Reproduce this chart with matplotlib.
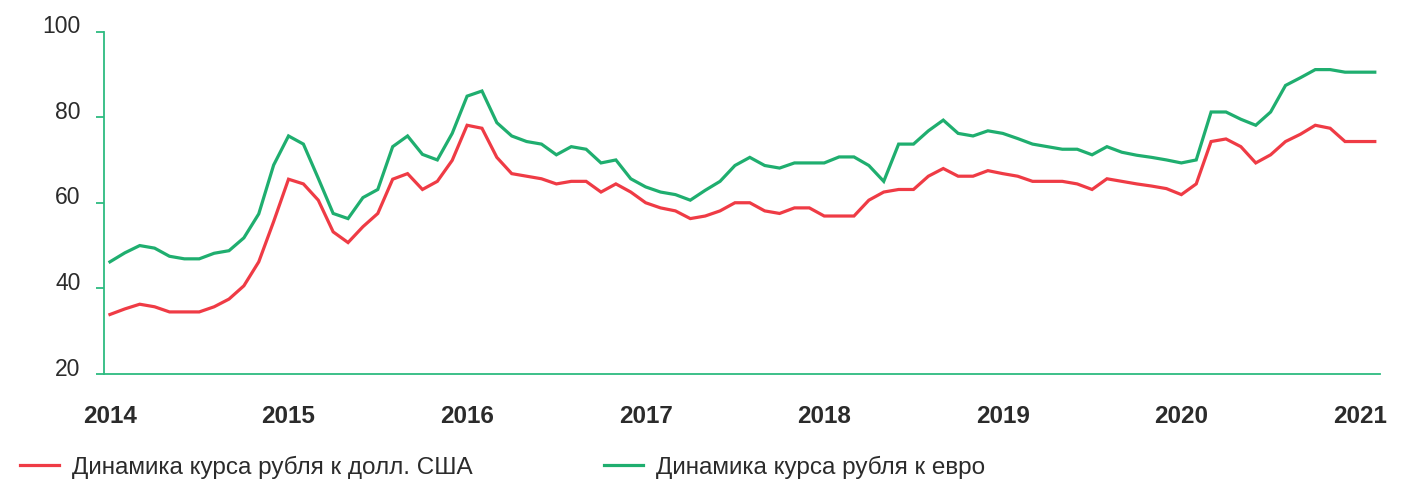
import numpy as np
import matplotlib
matplotlib.use("Agg")
import matplotlib.pyplot as plt
from matplotlib import transforms
from matplotlib import font_manager

# monthly values, Jan 2014 .. Feb 2021
usd = [
    33.9, 35.2, 36.3, 35.7, 34.5, 34.5, 34.5, 35.7, 37.5, 40.6, 46.2, 55.6,
    65.5, 64.4, 60.6, 53.2, 50.7, 54.4, 57.5, 65.5, 66.8, 63.1, 65.0, 69.9,
    78.1, 77.4, 70.6, 66.8, 66.2, 65.6, 64.4, 65.0, 65.0, 62.5, 64.4, 62.5,
    60.0, 58.8, 58.1, 56.3, 56.9, 58.1, 60.0, 60.0, 58.1, 57.5, 58.8, 58.8,
    56.9, 56.9, 56.9, 60.6, 62.5, 63.1, 63.1, 66.2, 68.0, 66.2, 66.2, 67.5,
    66.8, 66.2, 65.0, 65.0, 65.0, 64.4, 63.1, 65.6, 65.0, 64.4, 63.9, 63.3,
    61.9, 64.4, 74.3, 74.9, 73.1, 69.3, 71.2, 74.3, 76.0, 78.1, 77.4, 74.3,
    74.3, 74.3,
]
eur = [
    46.2, 48.3, 50.0, 49.4, 47.5, 46.9, 46.9, 48.2, 48.8, 51.8, 57.4, 68.8,
    75.6, 73.7, 65.7, 57.5, 56.3, 61.2, 63.1, 73.1, 75.6, 71.3, 70.0, 76.2,
    84.9, 86.1, 78.7, 75.6, 74.3, 73.7, 71.2, 73.1, 72.5, 69.3, 70.0, 65.6,
    63.7, 62.5, 61.9, 60.6, 62.9, 65.0, 68.7, 70.6, 68.7, 68.1, 69.3, 69.3,
    69.3, 70.7, 70.7, 68.7, 65.0, 73.7, 73.7, 76.8, 79.3, 76.2, 75.6, 76.8,
    76.2, 75.0, 73.7, 73.1, 72.5, 72.5, 71.2, 73.1, 71.8, 71.1, 70.6, 70.0,
    69.3, 70.0, 81.2, 81.2, 79.5, 78.1, 81.2, 87.4, 89.2, 91.1, 91.1, 90.5,
    90.5, 90.5,
]
years = ["2014", "2015", "2016", "2017", "2018", "2019", "2020", "2021"]
y_ticks = [20, 40, 60, 80, 100]
labels = ["Динамика курса рубля к долл. США", "Динамика курса рубля к евро"]

RED = "#ef3b45"
GREEN = "#1fae6f"
AXIS_GREEN = "#2dbb80"
TEXT = "#2b2b2b"

names = {f.name for f in font_manager.fontManager.ttflist}
family = "Liberation Sans" if "Liberation Sans" in names else "DejaVu Sans"
plt.rcParams["font.family"] = [family, "DejaVu Sans"]

fig = plt.figure(figsize=(14.21, 4.8), dpi=100)
ax = fig.add_axes([104 / 1421, 1 - 374 / 480, (1380 - 104) / 1421, (374 - 31.5) / 480])

x = np.arange(len(usd))
l_usd, = ax.plot(x, usd, color=RED, lw=2.3, solid_joinstyle="miter")
l_eur, = ax.plot(x, eur, color=GREEN, lw=2.3, solid_joinstyle="miter")

ax.set_ylim(20, 100)
ax.set_xlim(-0.4, 85.35)

for s in ["top", "right"]:
    ax.spines[s].set_visible(False)
for s in ["left", "bottom"]:
    ax.spines[s].set_color(AXIS_GREEN)
    ax.spines[s].set_linewidth(1.3)

ax.set_yticks(y_ticks)
ax.set_yticklabels([str(v) for v in y_ticks])
ax.tick_params(axis="y", length=6, width=1.3, color=AXIS_GREEN, pad=11,
               labelsize=16.5, labelcolor=TEXT)
up = transforms.ScaledTranslation(0, 7.5 / 100, fig.dpi_scale_trans)
for lab in ax.get_yticklabels():
    lab.set_transform(lab.get_transform() + up)

ax.set_xticks(np.arange(len(years)) * 12)
ax.set_xticklabels(years, fontweight="bold")
ax.tick_params(axis="x", length=0, pad=22, labelsize=17.5, labelcolor=TEXT)

leg_kw = dict(loc="center left", frameon=False, borderpad=0, borderaxespad=0,
              handlelength=1.6, handletextpad=0.55, fontsize=17.5,
              labelcolor=TEXT)
fig.legend(handles=[l_usd], labels=[labels[0]],
           bbox_to_anchor=(20 / 1421, 1 - 467 / 480), **leg_kw)
fig.legend(handles=[l_eur], labels=[labels[1]],
           bbox_to_anchor=(604 / 1421, 1 - 467 / 480), **leg_kw)

fig.savefig("out.png", dpi=100)
